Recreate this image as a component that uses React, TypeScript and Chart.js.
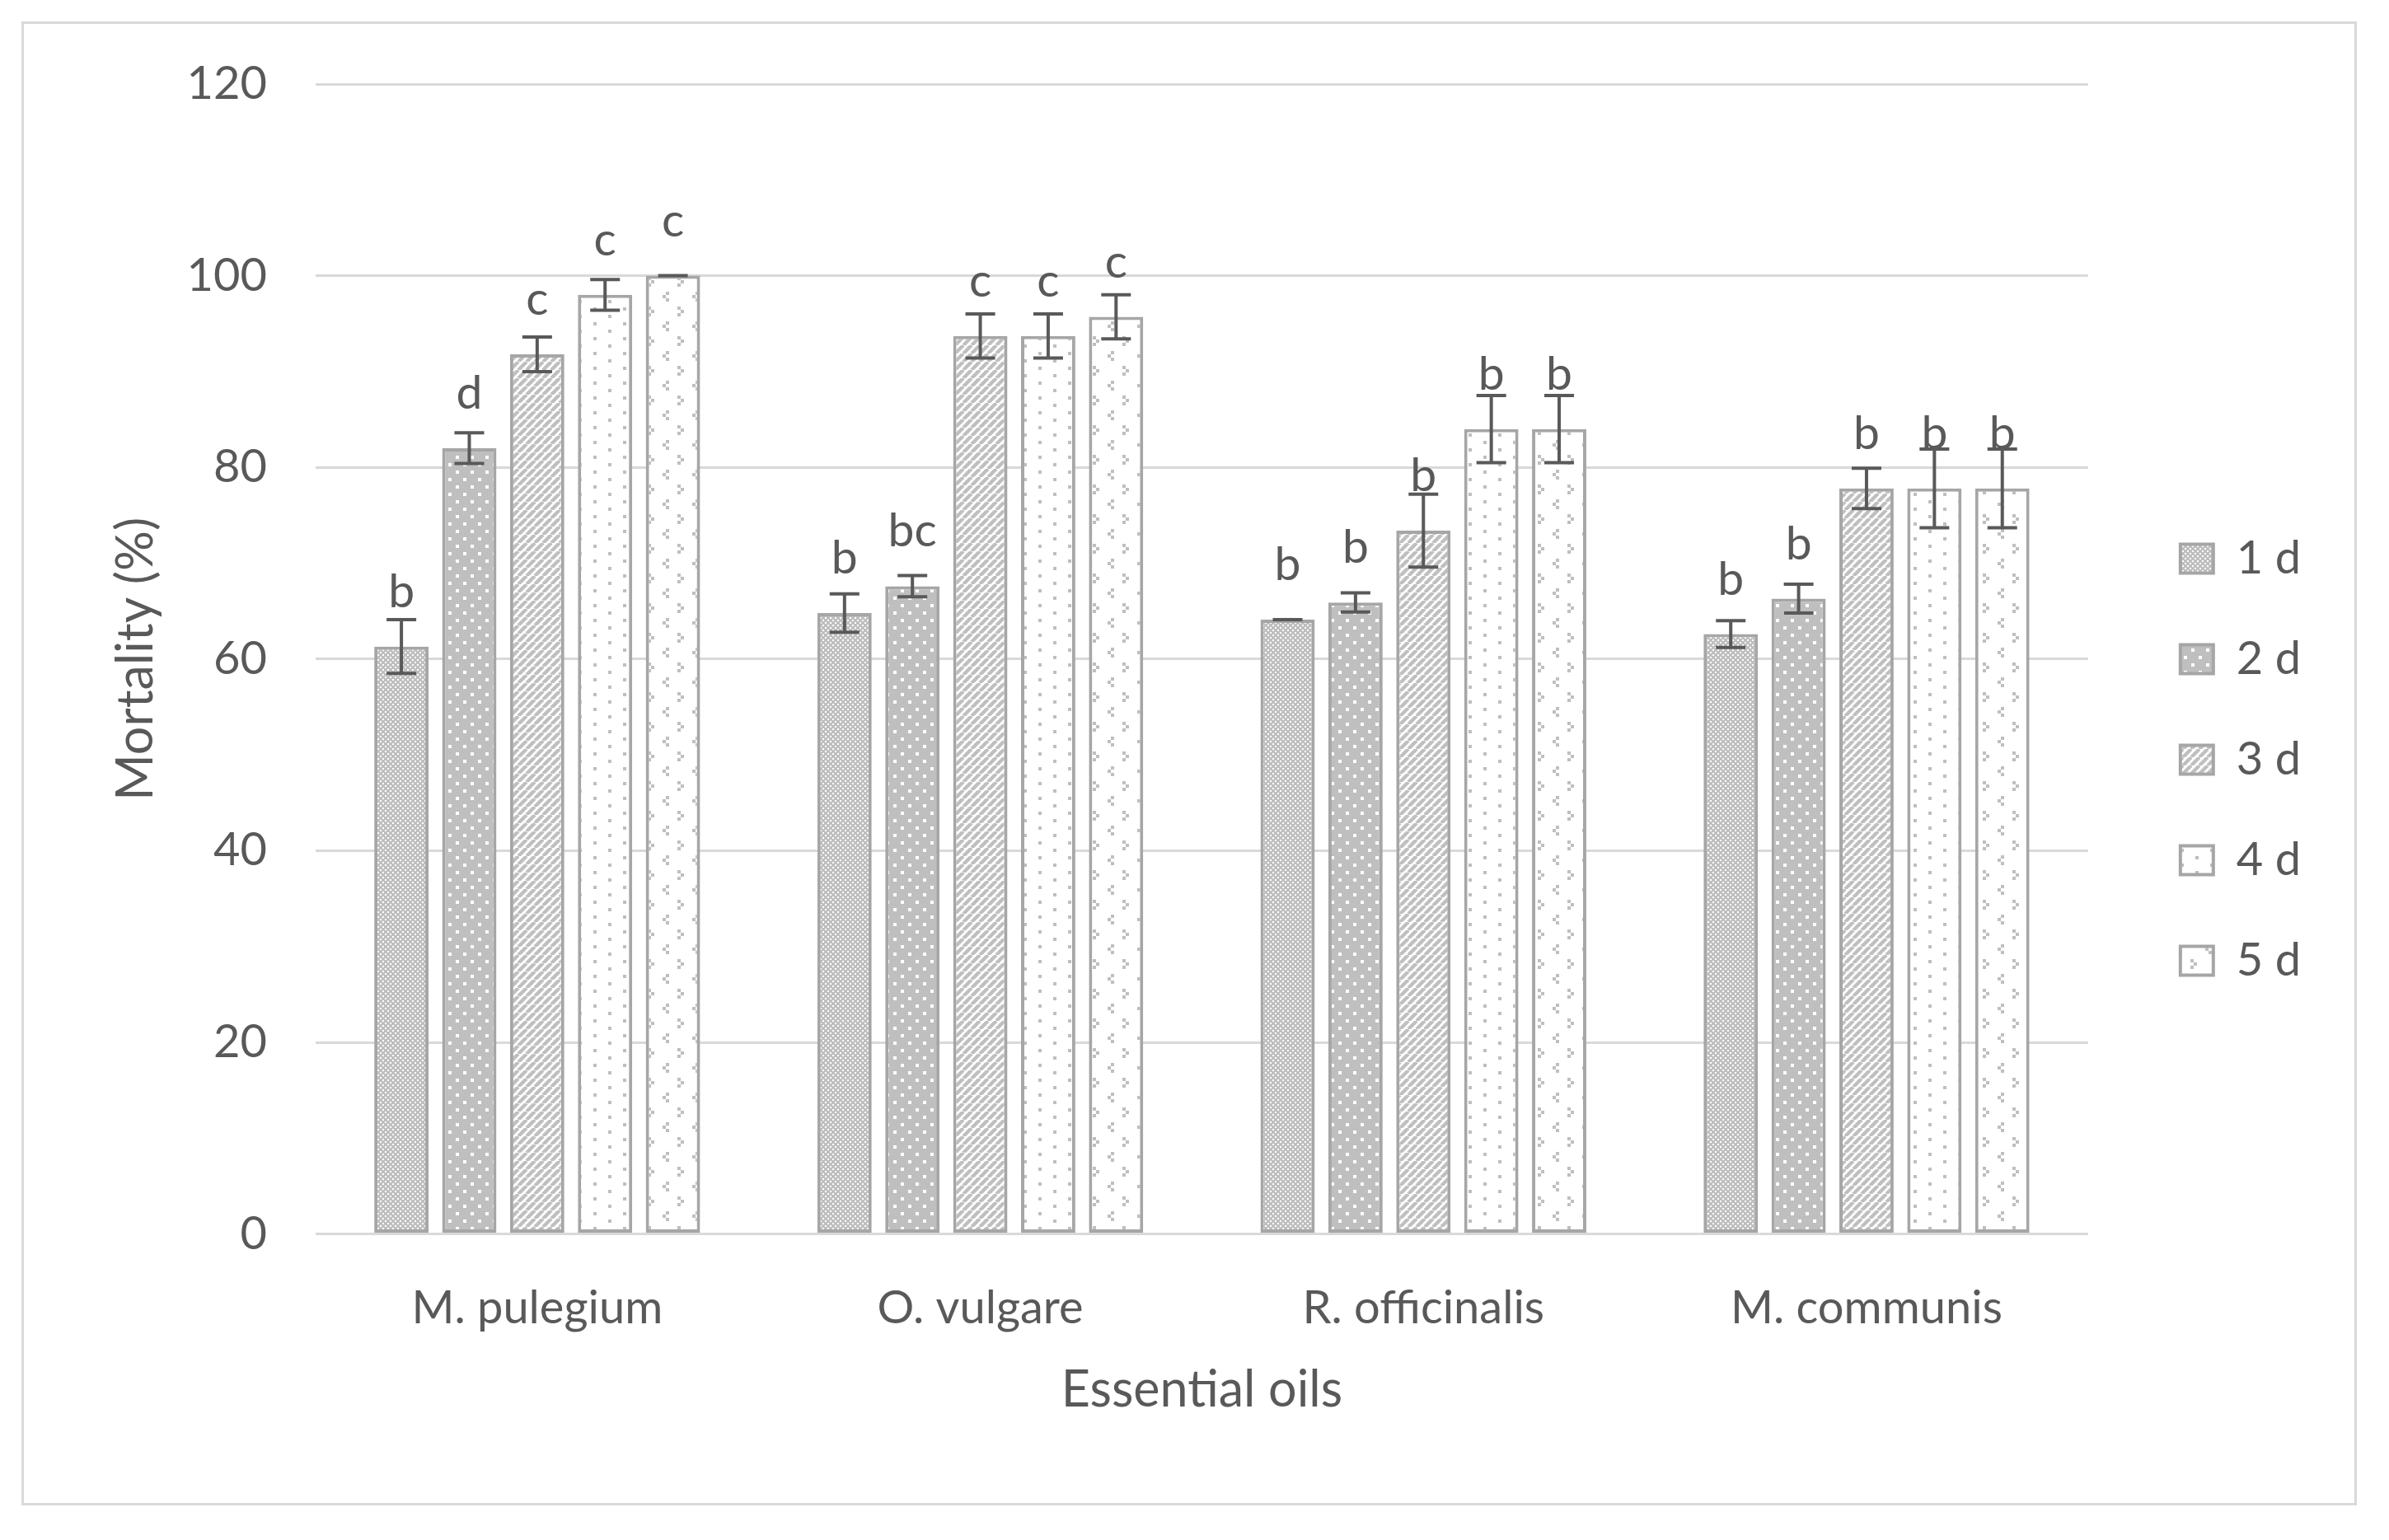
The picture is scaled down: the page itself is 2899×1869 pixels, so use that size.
import React, { useEffect, useRef } from 'react';
import { Chart, registerables } from 'chart.js';

Chart.register(...registerables);

// ---------- data ----------
const categories = ['M. pulegium', 'O. vulgare', 'R. officinalis', 'M. communis'];
const seriesNames = ['1 d', '2 d', '3 d', '4 d', '5 d'];

const day1 = [61.3, 64.8, 64.1, 62.6];
const day2 = [82.0, 67.6, 65.9, 66.3];
const day3 = [91.8, 93.7, 73.4, 77.8];
const day4 = [98.0, 93.7, 84.0, 77.8];
const day5 = [100.0, 95.7, 84.0, 77.8];

const err1 = [2.8, 2.0, 0.0, 1.4];
const err2 = [1.6, 1.1, 1.0, 1.5];
const err3 = [1.8, 2.3, 3.8, 2.1];
const err4 = [1.6, 2.3, 3.5, 4.1];
const err5 = [0.0, 2.3, 3.5, 4.1];

const letters1 = ['b', 'b', 'b', 'b'];
const letters2 = ['d', 'bc', 'b', 'b'];
const letters3 = ['c', 'c', 'b', 'b'];
const letters4 = ['c', 'c', 'b', 'b'];
const letters5 = ['c', 'c', 'b', 'b'];

const yTickValues = [0, 20, 40, 60, 80, 100, 120];
const yAxisTitle = 'Mortality (%)';
const xAxisTitle = 'Essential oils';

const seriesValues = [day1, day2, day3, day4, day5];
const seriesErrors = [err1, err2, err3, err4, err5];
const seriesLetters = [letters1, letters2, letters3, letters4, letters5];

// ---------- styles ----------
const TEXT = '#595959';
const GRID = '#d9d9d9';
const BORDER = '#a6a6a6';
const FILL = '#bfbfbf';
const FONT = 'Lato, "Noto Sans", sans-serif';

function makePattern(w: number, h: number, draw: (c: CanvasRenderingContext2D) => void) {
  const cv = document.createElement('canvas');
  cv.width = w;
  cv.height = h;
  const c = cv.getContext('2d')!;
  draw(c);
  return c.createPattern(cv, 'repeat')!;
}

function buildPatterns() {
  const p1 = makePattern(6, 6, (c) => {
    c.fillStyle = FILL;
    c.fillRect(0, 0, 6, 6);
    c.fillStyle = '#ffffff';
    c.fillRect(0, 0, 2, 2);
    c.fillRect(3, 3, 2, 2);
  });
  const p2 = makePattern(18, 18, (c) => {
    c.fillStyle = FILL;
    c.fillRect(0, 0, 18, 18);
    c.fillStyle = '#ffffff';
    c.fillRect(2, 2, 4, 4);
    c.fillRect(11, 11, 4, 4);
  });
  const p3 = makePattern(10, 10, (c) => {
    c.fillStyle = '#ffffff';
    c.fillRect(0, 0, 10, 10);
    c.strokeStyle = FILL;
    c.lineWidth = 4.4;
    for (const x0 of [-10, 0, 10]) {
      c.beginPath();
      c.moveTo(x0, 10);
      c.lineTo(x0 + 10, 0);
      c.stroke();
    }
  });
  const p4 = makePattern(36, 18, (c) => {
    c.fillStyle = '#ffffff';
    c.fillRect(0, 0, 36, 18);
    c.fillStyle = FILL;
    c.fillRect(7, 2, 4, 4);
    c.fillRect(25, 11, 4, 4);
  });
  const p5 = makePattern(36, 36, (c) => {
    c.fillStyle = '#ffffff';
    c.fillRect(0, 0, 36, 36);
    c.fillStyle = FILL;
    // "<"
    c.fillRect(23, 1, 4, 4);
    c.fillRect(19, 5, 4, 4);
    c.fillRect(23, 9, 4, 4);
    // ">"
    c.fillRect(1, 19, 4, 4);
    c.fillRect(5, 23, 4, 4);
    c.fillRect(1, 27, 4, 4);
  });
  return [p1, p2, p3, p4, p5];
}

const errorBarPlugin = {
  id: 'errorBarsAndLetters',
  afterDatasetsDraw(chart: any) {
    const ctx = chart.ctx as CanvasRenderingContext2D;
    const yScale = chart.scales.y;
    chart.data.datasets.forEach((ds: any, di: number) => {
      const meta = chart.getDatasetMeta(di);
      if (meta.hidden) return;
      meta.data.forEach((bar: any, i: number) => {
        const v = seriesValues[di][i];
        const e = seriesErrors[di][i];
        const x = bar.x;
        const yTop = yScale.getPixelForValue(v + e);
        const yBot = yScale.getPixelForValue(v - e);
        ctx.save();
        ctx.strokeStyle = TEXT;
        ctx.lineWidth = 4;
        ctx.beginPath();
        ctx.moveTo(x, yTop);
        ctx.lineTo(x, yBot);
        ctx.moveTo(x - 18, yTop);
        ctx.lineTo(x + 18, yTop);
        ctx.moveTo(x - 18, yBot);
        ctx.lineTo(x + 18, yBot);
        ctx.stroke();
        ctx.fillStyle = TEXT;
        ctx.font = `57px ${FONT}`;
        ctx.textAlign = 'center';
        ctx.textBaseline = 'alphabetic';
        ctx.fillText(seriesLetters[di][i], x, bar.y - 48);
        ctx.restore();
      });
    });
  },
};

export default function App() {
  const ref = useRef<HTMLCanvasElement>(null);

  useEffect(() => {
    const canvas = ref.current!;
    Chart.defaults.font.family = FONT;
    Chart.defaults.color = TEXT;
    const patterns = buildPatterns();

    const datasets = seriesNames.map((name, k) => ({
      label: name,
      data: seriesValues[k],
      backgroundColor: patterns[k],
      borderColor: BORDER,
      borderWidth: 4,
      borderSkipped: false as const,
      categoryPercentage: 0.766,
      barPercentage: 0.8,
    }));

    const chart = new Chart(canvas, {
      type: 'bar',
      data: { labels: categories, datasets },
      options: {
        responsive: false,
        animation: false,
        devicePixelRatio: 1,
        layout: { padding: { left: 0, top: 73, right: 55, bottom: 82 } },
        plugins: {
          tooltip: { enabled: false },
          legend: {
            position: 'right',
            labels: {
              boxWidth: 40,
              boxHeight: 35,
              padding: 66,
              color: TEXT,
              font: { family: FONT, size: 56 },
            },
          },
        },
        scales: {
          x: {
            grid: { display: false },
            border: { display: false },
            ticks: { color: TEXT, font: { family: FONT, size: 56 }, padding: 49 },
            title: {
              display: true,
              text: xAxisTitle,
              color: TEXT,
              font: { family: FONT, size: 61 },
              padding: { top: 0, bottom: 18 },
            },
            afterFit: (s: any) => {
              s.height = 244.4;
            },
          },
          y: {
            min: 0,
            max: 120,
            afterBuildTicks: (s: any) => {
              s.ticks = yTickValues.map((v) => ({ value: v }));
            },
            ticks: { color: TEXT, font: { family: FONT, size: 56 }, padding: 59 },
            grid: { color: GRID, lineWidth: 3, drawTicks: false },
            border: { display: false },
            title: {
              display: true,
              text: yAxisTitle,
              color: TEXT,
              font: { family: FONT, size: 61 },
              padding: { top: 100, bottom: 0 },
            },
            afterFit: (s: any) => {
              s.width = 354;
              s.paddingTop = 0;
              s.paddingBottom = 0;
            },
          },
          y2: {
            position: 'right',
            display: true,
            grid: { display: false },
            ticks: { display: false },
            border: { display: false },
            afterFit: (s: any) => {
              s.width = 46;
            },
          },
        },
      },
      plugins: [errorBarPlugin],
    } as any);

    return () => chart.destroy();
  }, []);

  return (
    <div style={{ padding: '18px 0 0 18px' }}>
      <div
        style={{
          width: 2834,
          height: 1801,
          border: '3px solid #d9d9d9',
          boxSizing: 'border-box',
          background: '#ffffff',
        }}
      >
        <canvas ref={ref} width={2828} height={1795} style={{ display: 'block', width: 2828, height: 1795 }} />
      </div>
    </div>
  );
}
